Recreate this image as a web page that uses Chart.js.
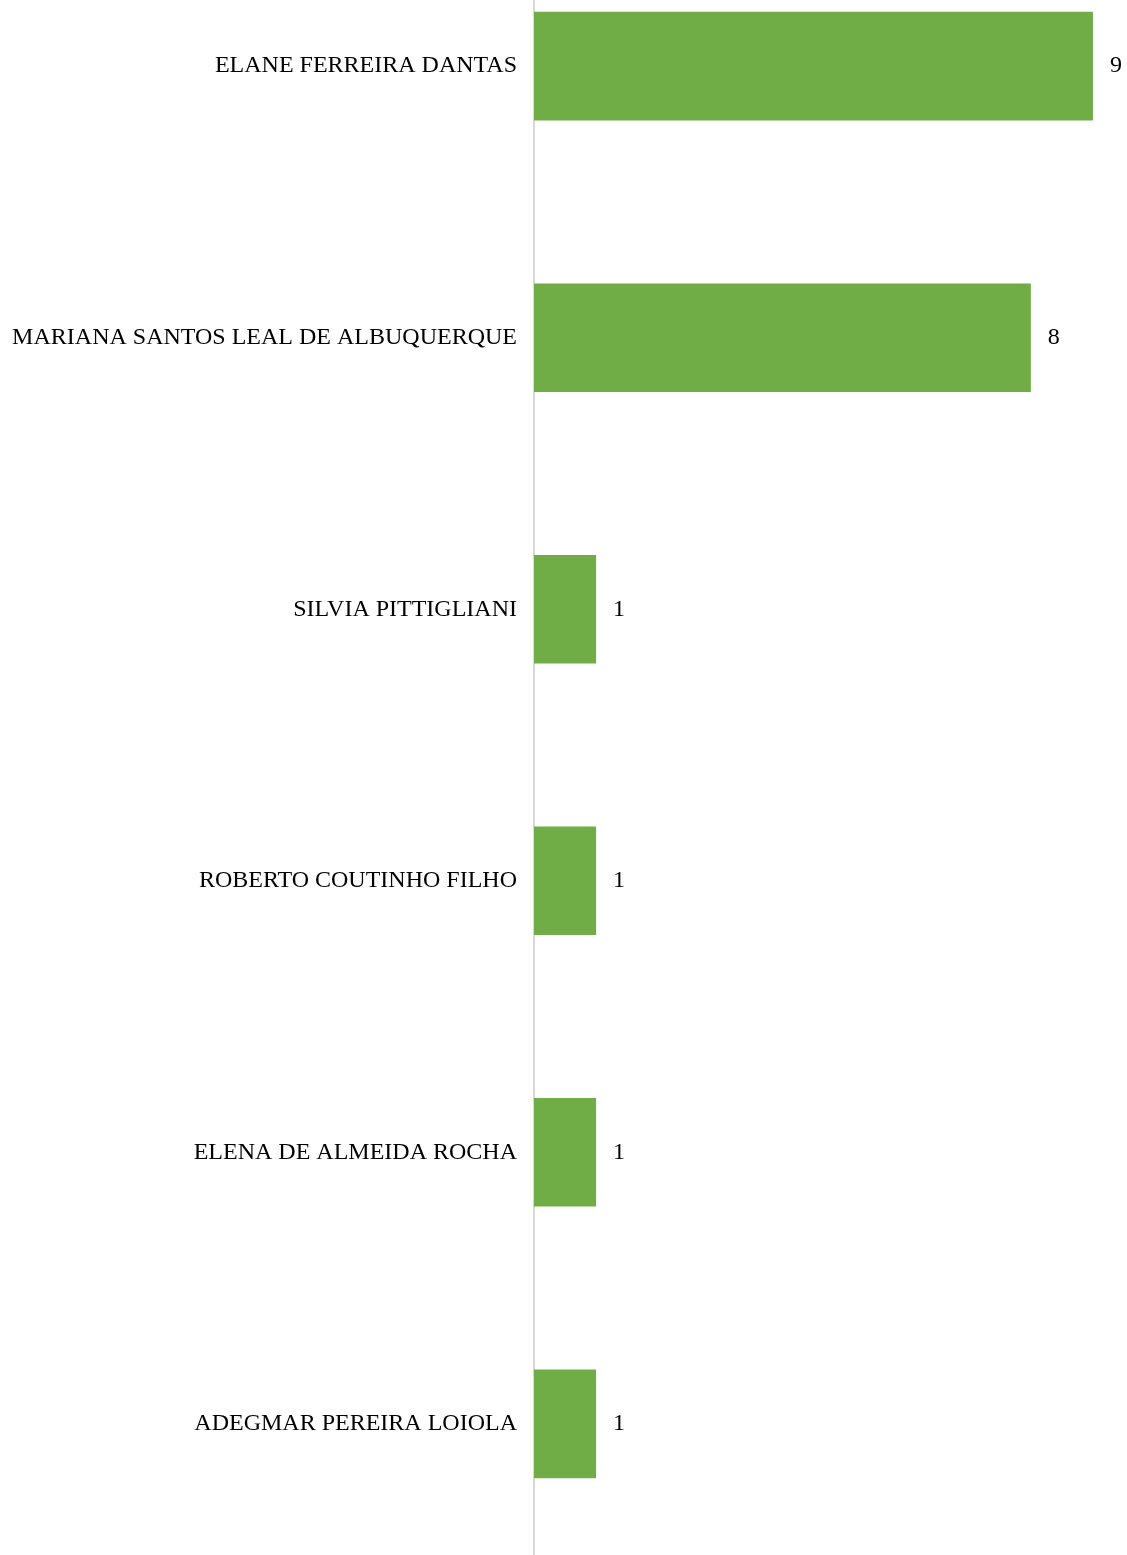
<!DOCTYPE html>
<html>
<head>
<meta charset="utf-8">
<script src="https://cdn.jsdelivr.net/npm/chart.js@4"></script>
<style>
  html, body { margin: 0; padding: 0; background: #ffffff; overflow: hidden; width: 1127px; height: 1555px; }
  #wrap { position: absolute; left: 0; top: -101px; }
</style>
</head>
<body>
<div id="wrap"><canvas id="bar-canva" width="1127" height="1692"></canvas></div>
<script>
const names = [
  'ELANE FERREIRA DANTAS',
  'MARIANA SANTOS LEAL DE ALBUQUERQUE',
  'SILVIA PITTIGLIANI',
  'ROBERTO COUTINHO FILHO',
  'ELENA DE ALMEIDA ROCHA',
  'ADEGMAR PEREIRA LOIOLA'
];
const counts = [9, 8, 1, 1, 1, 1];

const fontFamily = '"Liberation Serif", "Times New Roman", serif';

// draws the number right after each bar
const valueLabels = {
  id: 'valueLabels',
  afterDatasetsDraw(chart) {
    const ctx = chart.ctx;
    const meta = chart.getDatasetMeta(0);
    ctx.save();
    ctx.font = '24px ' + fontFamily;
    ctx.fillStyle = '#000000';
    ctx.textAlign = 'left';
    ctx.textBaseline = 'middle';
    meta.data.forEach((bar, i) => {
      ctx.fillText(String(counts[i]), bar.x + 17, bar.y);
    });
    ctx.restore();
  }
};

const config = {
  type: 'bar',
  data: {
    labels: names,
    datasets: [{
      data: counts,
      backgroundColor: '#70AD47',
      borderWidth: 0,
      categoryPercentage: 1,
      barPercentage: 0.4
    }]
  },
  options: {
    indexAxis: 'y',
    responsive: false,
    animation: false,
    layout: { padding: 0 },
    plugins: {
      legend: { display: false },
      tooltip: { enabled: false }
    },
    scales: {
      x: {
        display: false,
        min: 0,
        max: 9.548
      },
      y: {
        afterFit(scale) { scale.width = 534; },
        grid: { display: false, drawTicks: false },
        border: { display: true, color: '#d9d9d9', width: 2 },
        ticks: {
          color: '#000000',
          padding: 17,
          font: { family: fontFamily, size: 24 }
        }
      }
    }
  },
  plugins: [valueLabels]
};

let chart = new Chart(document.getElementById('bar-canva'), config);
</script>
</body>
</html>
